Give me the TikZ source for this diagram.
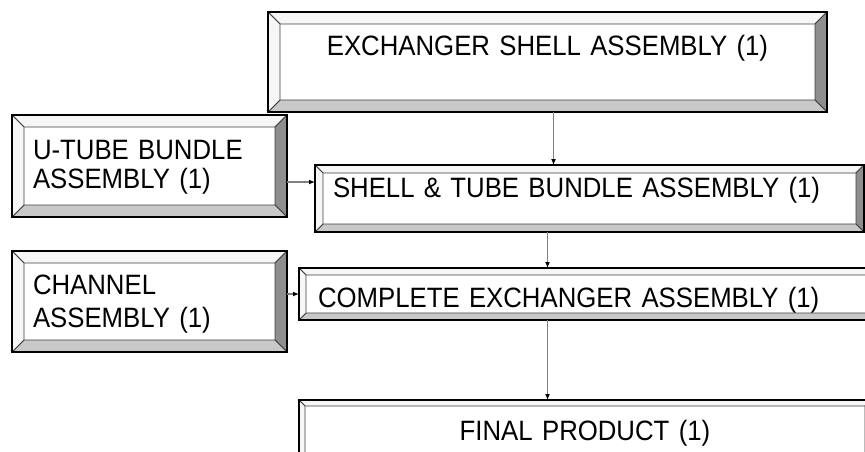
\documentclass[tikz,border=0pt]{standalone}
\usepackage{fontspec}
\newfontfamily\boxfont{Liberation Sans}[FakeStretch=0.92]
\usepackage{tikz}
\usetikzlibrary{calc, arrows.meta}
\definecolor{bvlight}{HTML}{F6F6F6}
\definecolor{bvmid}{HTML}{C8C8C8}
\definecolor{bvdark}{HTML}{8E8E8E}
% raised frame round a node: #1 node name, #2 bevel width
\newcommand{\bevelbox}[2]{%
  \filldraw[bvedge, fill=bvlight] (#1.north west) -- (#1.north east) -- ($(#1.north east)+(-#2,#2)$) -- ($(#1.north west)+(#2,#2)$) -- cycle;
  \filldraw[bvedge, fill=bvdark] (#1.north east) -- (#1.south east) -- ($(#1.south east)+(-#2,-#2)$) -- ($(#1.north east)+(-#2,#2)$) -- cycle;
  \filldraw[bvedge, fill=bvmid] (#1.south east) -- (#1.south west) -- ($(#1.south west)+(#2,-#2)$) -- ($(#1.south east)+(-#2,-#2)$) -- cycle;
  \filldraw[bvedge, fill=bvlight] (#1.south west) -- (#1.north west) -- ($(#1.north west)+(#2,#2)$) -- ($(#1.south west)+(#2,-#2)$) -- cycle;
  \draw[line width=1.3pt] (#1.north west) rectangle (#1.south east);
}

\begin{document}
\begin{tikzpicture}[x=1pt, y=-1pt]
		\tikzset{
		    part/.style= {anchor=north west, fill=white, inner ysep=0pt, outer sep=0pt, font=\boxfont\fontsize{28}{29}\selectfont},
		    bvedge/.style= {draw=black!75, line width=0.8pt},
		    flow/.style= {draw=gray, line width=1.2pt, -{Latex[color=black, length=6pt, width=5pt]}},
		}
		\useasboundingbox (0,0) rectangle (865,452);
		\clip (0,0) rectangle (865,452);
		
		\node[part, inner xsep=13pt, text width=533pt, align=center, text height=44pt, text depth=56pt] (shell) at (268,12) {EXCHANGER SHELL ASSEMBLY (1)};
		\node[part, inner xsep=21pt, text width=233pt, align=left, text height=44pt, text depth=58pt] (ubundle) at (12,115) {U-TUBE BUNDLE\\ASSEMBLY (1)};
		\node[part, inner xsep=18pt, text width=513pt, align=left, text height=32pt, text depth=35pt] (tube) at (315,165) {SHELL \& TUBE BUNDLE ASSEMBLY (1)};
		\node[part, inner xsep=21pt, text width=233pt, align=left, text height=43pt, text depth=58pt] (channel) at (12,251) {CHANNEL\\[4pt]ASSEMBLY (1)};
		\node[part, inner xsep=19pt, text width=538pt, align=left, text height=39pt, text depth=13pt] (complete) at (299,268) {COMPLETE EXCHANGER ASSEMBLY (1)};
		\node[part, inner xsep=12pt, text width=548pt, align=center, text height=40pt, text depth=30pt] (final) at (299,400) {FINAL PRODUCT (1)};
		
		\bevelbox{shell}{12}
		\bevelbox{ubundle}{12}
		\bevelbox{tube}{8}
		\bevelbox{channel}{12}
		\bevelbox{complete}{7}
		\bevelbox{final}{6}
		
		\draw[flow] ([xshift=6]shell.south) -- ([xshift=6]shell.south |- tube.north);
		\draw[flow] ([yshift=-16]ubundle.east) -- ([yshift=-16]ubundle.east -| tube.west);
		\draw[flow] (tube.south -| shell.south) -- (complete.north -| shell.south);
		\draw[flow] (channel.east |- complete.west) -- (complete.west);
		\draw[flow] (complete.south -| shell.south) -- (final.north -| shell.south);
	\end{tikzpicture}
\end{document}
